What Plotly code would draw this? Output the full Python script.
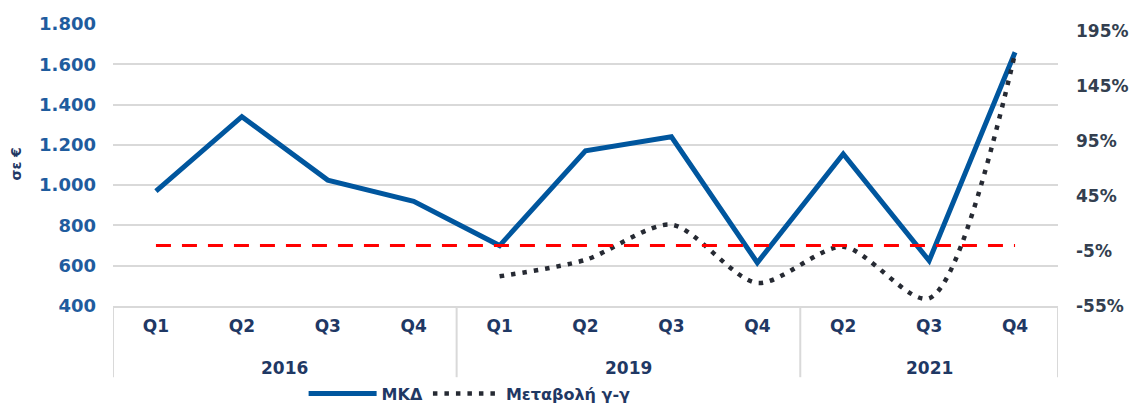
import plotly.graph_objects as go

years = ["2016"] * 4 + ["2019"] * 4 + ["2021"] * 3
quarters = ["Q1", "Q2", "Q3", "Q4", "Q1", "Q2", "Q3", "Q4", "Q2", "Q3", "Q4"]
mkd = [970, 1340, 1025, 920, 700, 1170, 1240, 615, 1155, 625, 1660]
yoy = [None, None, None, None, -28, -13, 19, -34, -1, -48, 175]
ref_line = [0] * 11

left_ticks = [400, 600, 800, 1000, 1200, 1400, 1600, 1800]
right_ticks = [-55, -5, 45, 95, 145, 195]
right_ticktext = ["-55%", "-5%", "45%", "95%", "145%", "195%"]

FONT = "DejaVu Sans"
NAVY = "#1F3864"
BLUE = "#00569E"
GRID = "#D9D9D9"

xpos = list(range(len(quarters)))

# year groups: centers and boundaries derived from the category arrays
groups = []
start = 0
for i in range(1, len(years) + 1):
    if i == len(years) or years[i] != years[start]:
        groups.append((years[start], start, i - 1))
        start = i

fig = go.Figure()
fig.add_trace(go.Scatter(
    x=xpos, y=mkd, name="ΜΚΔ", mode="lines",
    line=dict(color=BLUE, width=5), yaxis="y"))
fig.add_trace(go.Scatter(
    x=xpos, y=yoy, name="Μεταβολή γ-γ", mode="lines",
    line=dict(color="#262A33", width=4.5, dash="4.5px,7px", shape="spline", smoothing=0.8),
    yaxis="y2"))
fig.add_trace(go.Scatter(
    x=xpos, y=ref_line, name="0%", mode="lines", showlegend=False,
    line=dict(color="#FF0000", width=3, dash="15px,11px"), yaxis="y2"))

shapes = []
bounds = [g[1] - 0.5 for g in groups] + [groups[-1][2] + 0.5]
for b in bounds:
    shapes.append(dict(type="line", xref="x", yref="paper", x0=b, x1=b,
                       y0=0, y1=-0.2525, line=dict(color=GRID, width=2)))

annotations = [dict(
    text="σε €", xref="paper", yref="paper", x=-0.1026, y=0.502,
    xanchor="center", yanchor="middle",
    textangle=-90, showarrow=False,
    font=dict(family=FONT, size=14, color=NAVY, weight=700))]
for name, a, b in groups:
    annotations.append(dict(
        text=name, xref="x", yref="paper", x=(a + b) / 2, y=-0.22,
        xanchor="center", yanchor="middle", showarrow=False,
        font=dict(family=FONT, size=17, color=NAVY, weight=700)))

fig.update_layout(
    width=1139, height=403,
    margin=dict(l=105, r=89, t=16, b=104.6, autoexpand=False),
    paper_bgcolor="white", plot_bgcolor="white",
    separators=",.",
    font=dict(family=FONT, size=17, color=NAVY, weight=700),
    xaxis=dict(
        range=[-0.5, len(quarters) - 0.5], tickvals=xpos, ticktext=quarters,
        showline=True, linecolor=GRID, linewidth=2, automargin=False,
        showgrid=False, zeroline=False, ticks="", ticklabelstandoff=4,
        tickfont=dict(family=FONT, size=17, color=NAVY, weight=700)),
    yaxis=dict(
        range=[400, 1800], tickvals=left_ticks, tickformat=",d", automargin=False,
        showgrid=True, gridcolor=GRID, gridwidth=1.5, zeroline=False,
        showline=False, ticklabelstandoff=16,
        tickfont=dict(family=FONT, size=18, color="#1F5C9E", weight=700)),
    yaxis2=dict(
        overlaying="y", side="right", range=[-55, 201.7], automargin=False,
        tickvals=right_ticks, ticktext=right_ticktext,
        showgrid=False, zeroline=False, showline=False, ticklabelstandoff=17,
        tickfont=dict(family=FONT, size=17, color="#333F50", weight=700)),
    legend=dict(
        orientation="h", x=0.2017, xanchor="left", y=-0.25, yanchor="top",
        itemwidth=68, font=dict(family=FONT, size=16, color=NAVY, weight=700),
        bgcolor="rgba(0,0,0,0)", tracegroupgap=0),
    showlegend=True,
    shapes=shapes,
    annotations=annotations,
)

fig.write_html("out.html")
